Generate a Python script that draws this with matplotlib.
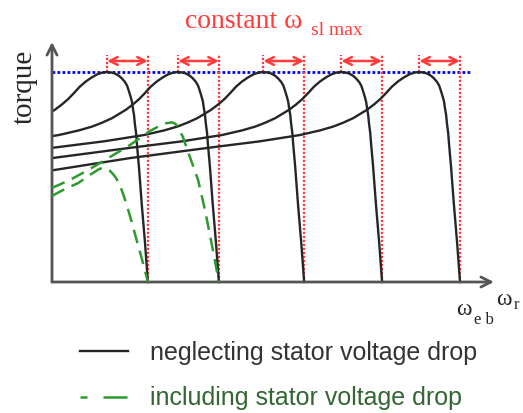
import numpy as np
import matplotlib
matplotlib.use('Agg')
import matplotlib.pyplot as plt
from matplotlib.patches import Rectangle
from matplotlib.lines import Line2D

# speeds are per unit of the base speed w_eb, torque per unit of the peak torque
sync_speeds = [0.235, 0.409, 0.618, 0.809, 1.0]
slip_max = 0.1

# torque vs slip speed (same shape for every curve)
slip = [0, 0.007, 0.015, 0.022, 0.027, 0.029, 0.032, 0.034, 0.037, 0.039,
        0.042, 0.047, 0.051, 0.056, 0.064, 0.071, 0.081, 0.091, 0.100, 0.110,
        0.123, 0.137, 0.152, 0.167, 0.181, 0.196, 0.211, 0.228, 0.245, 0.262,
        0.287, 0.311, 0.343, 0.392, 0.490, 0.613, 0.809, 1.005]
torque = [0, 0.185, 0.37, 0.55, 0.66, 0.71, 0.755, 0.795, 0.83, 0.858,
          0.88, 0.912, 0.935, 0.952, 0.97, 0.982, 0.993, 0.998, 1.0, 0.998,
          0.99, 0.975, 0.955, 0.93, 0.90, 0.87, 0.845, 0.82, 0.80, 0.78,
          0.758, 0.74, 0.722, 0.70, 0.67, 0.64, 0.59, 0.53]

# curves including stator voltage drop
g1_speed = [0, 0.032, 0.064, 0.093, 0.105, 0.113, 0.120, 0.127, 0.135, 0.142,
            0.150, 0.157, 0.164, 0.169, 0.181, 0.194, 0.206, 0.221, 0.235]
g1_torque = [0.41, 0.443, 0.471, 0.51, 0.525, 0.535, 0.541, 0.543, 0.540, 0.530,
             0.513, 0.495, 0.470, 0.448, 0.381, 0.295, 0.21, 0.105, 0]
g2_speed = [0, 0.044, 0.093, 0.142, 0.191, 0.240, 0.265, 0.280, 0.294, 0.302,
            0.309, 0.321, 0.338, 0.358, 0.375, 0.392, 0.409]
g2_torque = [0.448, 0.486, 0.538, 0.595, 0.652, 0.719, 0.745, 0.756, 0.760, 0.754,
             0.738, 0.69, 0.595, 0.486, 0.343, 0.176, 0]

labels = ['neglecting stator voltage drop', 'including stator voltage drop']

W, H = 523, 413
x0, y0 = 52, 282          # pixel position of the origin
sx, sy = 408, 210         # pixels per unit


def px(x, y):
    return (x - x0) / sx, (y0 - y) / sy


fig = plt.figure(figsize=(W / 100, H / 100), dpi=100)
ax = fig.add_axes([0, 0, 1, 1])
ax.set_xlim(-x0 / sx, (W - x0) / sx)
ax.set_ylim((y0 - H) / sy, y0 / sy)
ax.axis('off')

black = '#262626'
green = '#2e9a2e'
red = '#ff3b3b'

clip = Rectangle((0, -0.01), 2, 2, transform=ax.transData)

top = px(0, 55)[1]
for ws in sync_speeds:
    sp = ws - np.array(slip)
    ln, = ax.plot(sp, torque, color=black, lw=1.7, solid_joinstyle='round', zorder=3)
    ln.set_clip_path(clip)
    ax.plot([ws, ws], [0, top], color=red, lw=1.6, ls=(0, (1, 0.8)), zorder=2)
    ax.plot([ws - slip_max] * 2, [1, top], color=red, lw=1.6, ls=(0, (1, 0.8)), zorder=2)
    ax.annotate('', xy=(ws, px(0, 61)[1]), xytext=(ws - slip_max, px(0, 61)[1]),
                arrowprops=dict(arrowstyle='<->', color=red, lw=1.8,
                                mutation_scale=14, shrinkA=0, shrinkB=0))
black_line = ln

ax.plot(g1_speed, g1_torque, color=green, lw=1.8, ls=(0, (5.5, 3.2)), zorder=4)
ax.plot(g2_speed, g2_torque, color=green, lw=1.8, ls=(0, (5.5, 3.2)), zorder=4)
green_handle = Line2D([], [], color=green, lw=1.8, ls=(0, (2.8, 6.4, 9.6, 3)))

ax.plot([0, px(470, 0)[0]], [1, 1], color='#0000ff', lw=2, ls=(0, (1, 0.8)), zorder=1)

# axes with open arrow heads
axc = '#555555'
ax.annotate('', xy=px(52, 42), xytext=(0, 0),
            arrowprops=dict(arrowstyle='->', color=axc, lw=2, mutation_scale=18,
                            shrinkA=0, shrinkB=0))
ax.annotate('', xy=px(494, 282), xytext=(0, 0),
            arrowprops=dict(arrowstyle='->', color=axc, lw=2, mutation_scale=18,
                            shrinkA=0, shrinkB=0))

serif = 'Liberation Serif'
ax.text(*px(185, 28), 'constant \u03c9', color=red, fontsize=20, family=serif, va='baseline')
ax.text(*px(311, 35), 'sl max', color=red, fontsize=14, family=serif, va='baseline')
ax.text(*px(25, 87), 'torque', color=black, fontsize=21, family=serif,
        rotation=90, ha='center', va='center')
ax.text(*px(456, 315), '\u03c9', color=black, fontsize=17, family=serif, va='baseline')
ax.text(*px(474, 324), 'e b', color=black, fontsize=12, family=serif, va='baseline')
ax.text(*px(496, 305), '\u03c9', color=black, fontsize=17, family=serif, va='baseline')
ax.text(*px(514, 309), 'r', color=black, fontsize=12, family=serif, va='baseline')

ax.legend([black_line, green_handle], labels, loc='upper left',
          bbox_to_anchor=(80 / W, 1 - 341 / H), bbox_transform=fig.transFigure,
          frameon=False, borderpad=0, borderaxespad=0,
          handlelength=1.9, handletextpad=0.9, labelspacing=0.86,
          prop={'family': 'Liberation Sans', 'size': 18},
          labelcolor=['#333333', '#336633'])

fig.savefig('out.png', dpi=100)
